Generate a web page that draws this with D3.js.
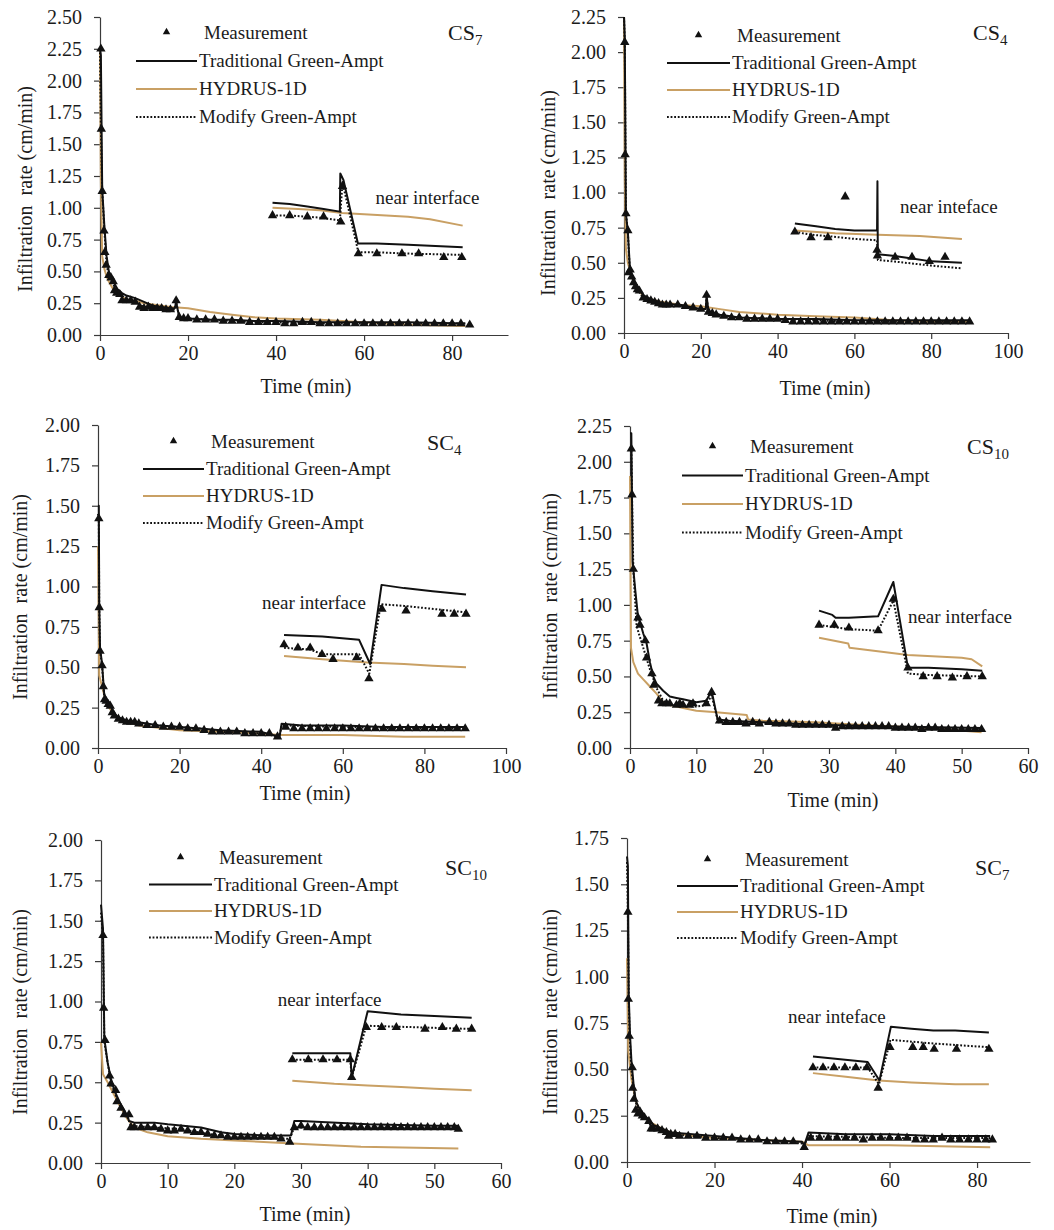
<!DOCTYPE html>
<html>
<head>
<meta charset="utf-8">
<script src="https://cdn.jsdelivr.net/npm/d3@7"></script>
<style>
  body { margin: 0; background: #fff; }
  text { font-family: "Liberation Serif", "Times New Roman", serif; fill: #1b1b1b; }
</style>
</head>
<body>
<svg id="fig" width="1054" height="1230"></svg>
<script>
// ---- tick labels ----
const yTicks250 = [0, 0.25, 0.5, 0.75, 1, 1.25, 1.5, 1.75, 2, 2.25, 2.5];
const yTicks225 = [0, 0.25, 0.5, 0.75, 1, 1.25, 1.5, 1.75, 2, 2.25];
const yTicks200 = [0, 0.25, 0.5, 0.75, 1, 1.25, 1.5, 1.75, 2];
const yTicks175 = [0, 0.25, 0.5, 0.75, 1, 1.25, 1.5, 1.75];
const xTicks80 = [0, 20, 40, 60, 80];
const xTicks100 = [0, 20, 40, 60, 80, 100];
const xTicks60 = [0, 10, 20, 30, 40, 50, 60];

const seriesNames = ["Measurement", "Traditional Green-Ampt", "HYDRUS-1D", "Modify Green-Ampt"];

// ---- CS7 ----
const cs7Meas = [[0.2,2.25],[0.3,1.62],[0.5,1.13],[0.9,0.82],[1.1,0.65],[1.4,0.55],[2,0.47],[2.5,0.45],[3,0.42],[3.3,0.35],[3.8,0.33],[4.5,0.32],[5,0.27],[6,0.27],[7,0.27],[8,0.26],[9,0.22],[10,0.21],[11,0.22],[12,0.21],[13,0.21],[14,0.21],[15,0.2],[16,0.2],[17.3,0.27],[18,0.14],[19,0.13],[20,0.13],[22,0.12],[24,0.12],[26,0.12],[28,0.11],[30,0.11],[32,0.11],[34,0.1],[36,0.1],[38,0.1],[40,0.1],[42,0.09],[44,0.09],[46,0.1],[48,0.1],[50,0.09],[52,0.09],[54,0.09],[56,0.09],[58,0.09],[60,0.09],[62,0.09],[64,0.09],[66,0.09],[68,0.09],[70,0.09],[72,0.09],[74,0.09],[76,0.09],[78,0.09],[80,0.09],[82,0.09],[84,0.08]];
const cs7Trad = [[0,2.25],[0.2,2.2],[0.5,1.15],[1,0.85],[1.5,0.62],[2,0.5],[3,0.42],[4,0.36],[5,0.33],[6,0.31],[8,0.29],[10,0.26],[12,0.23],[14,0.22],[16,0.21],[17,0.21],[17.3,0.26],[18,0.14],[20,0.13],[25,0.12],[30,0.12],[35,0.11],[40,0.11],[50,0.1],[60,0.1],[70,0.1],[83,0.09]];
const cs7Hyd = [[0,2.25],[0.2,1.2],[0.5,0.62],[1,0.52],[1.5,0.46],[2,0.42],[3,0.36],[4,0.32],[5,0.3],[6,0.28],[8,0.27],[10,0.25],[12,0.24],[14,0.23],[16,0.22],[20,0.21],[25,0.18],[30,0.16],[35,0.14],[40,0.13],[50,0.12],[60,0.1],[70,0.08],[83,0.07]];
const cs7Mod = [[0,2.25],[0.2,1.62],[0.5,1.13],[1,0.82],[1.5,0.55],[2,0.47],[3,0.4],[4,0.33],[5,0.3],[6,0.28],[8,0.26],[10,0.22],[12,0.21],[14,0.21],[16,0.2],[17,0.2],[17.3,0.26],[18,0.14],[20,0.13],[25,0.12],[30,0.11],[35,0.1],[40,0.1],[50,0.09],[60,0.09],[70,0.09],[83,0.09]];
const cs7NearMeas = [[39.2,0.94],[43.1,0.94],[47.1,0.93],[50.8,0.93],[54.7,0.89],[55.1,1.17],[58.7,0.64],[62.9,0.64],[68.6,0.64],[72.4,0.64],[78.1,0.61],[82.2,0.61]];
const cs7NearTrad = [[39.2,1.04],[43.1,1.03],[47.1,1.01],[50.8,0.99],[54.5,0.97],[54.6,1.27],[55.3,1.22],[58.6,0.72],[62.9,0.72],[70,0.71],[82.4,0.69]];
const cs7NearHyd = [[39.2,1.0],[45,0.99],[50,0.98],[55,0.96],[60,0.95],[65,0.94],[70,0.93],[75,0.91],[82.4,0.86]];
const cs7NearMod = [[39.2,0.94],[43.1,0.94],[47.1,0.93],[50.8,0.92],[54.5,0.9],[55.1,1.2],[58.7,0.65],[62.9,0.65],[70,0.64],[82.4,0.63]];

// ---- CS4 ----
const cs4Meas = [[0.2,2.07],[0.3,1.27],[0.5,0.85],[1,0.73],[1.2,0.43],[1.6,0.45],[2,0.4],[2.5,0.36],[3,0.33],[3.5,0.31],[4,0.3],[5,0.25],[6,0.24],[7,0.23],[8,0.22],[9,0.21],[10,0.2],[11,0.2],[12,0.2],[14,0.2],[16,0.19],[18,0.18],[20,0.17],[21.5,0.27],[22,0.15],[23,0.14],[24,0.13],[26,0.12],[28,0.11],[30,0.11],[32,0.1],[34,0.1],[36,0.1],[38,0.1],[40,0.1],[42,0.09],[44,0.08],[46,0.08],[48,0.08],[50,0.08],[52,0.08],[54,0.08],[56,0.08],[58,0.08],[60,0.08],[62,0.08],[64,0.08],[66,0.08],[68,0.08],[70,0.08],[72,0.08],[74,0.08],[76,0.08],[78,0.08],[80,0.08],[82,0.08],[84,0.08],[86,0.08],[88,0.08],[90,0.08]];
const cs4Trad = [[0,2.25],[0.2,2.1],[0.5,0.85],[1,0.72],[1.5,0.48],[2,0.42],[3,0.35],[5,0.27],[7,0.24],[10,0.21],[15,0.2],[20,0.17],[21.3,0.17],[21.5,0.27],[22,0.15],[25,0.13],[30,0.11],[40,0.1],[50,0.1],[60,0.09],[70,0.09],[80,0.09],[90,0.09]];
const cs4Hyd = [[0,2.25],[0.2,1.1],[0.5,0.6],[1,0.5],[1.5,0.45],[2,0.4],[3,0.34],[5,0.26],[7,0.24],[10,0.22],[15,0.2],[20,0.19],[25,0.17],[30,0.15],[40,0.13],[50,0.12],[60,0.11],[70,0.09],[80,0.08],[90,0.08]];
const cs4Mod = [[0,2.25],[0.2,2.07],[0.5,0.85],[1,0.72],[1.5,0.45],[2,0.4],[3,0.33],[5,0.25],[7,0.23],[10,0.2],[15,0.19],[20,0.17],[21.3,0.17],[21.5,0.26],[22,0.14],[25,0.12],[30,0.11],[40,0.1],[50,0.09],[60,0.08],[70,0.08],[80,0.08],[90,0.08]];
const cs4NearMeas = [[44.5,0.72],[48.7,0.68],[53.1,0.68],[57.6,0.97],[65.9,0.59],[66,0.55],[70.6,0.54],[75,0.54],[79.5,0.51],[83.6,0.54]];
const cs4NearTrad = [[44.5,0.78],[50,0.76],[55,0.74],[60,0.73],[65.9,0.73],[66,1.08],[66.1,0.56],[70,0.55],[75,0.53],[80,0.51],[88,0.5]];
const cs4NearHyd = [[44.5,0.73],[55,0.71],[66,0.7],[77,0.69],[88,0.67]];
const cs4NearMod = [[44.5,0.72],[48.7,0.7],[53,0.69],[60,0.67],[65.9,0.66],[66.1,0.52],[70,0.51],[80,0.48],[88,0.46]];

// ---- SC4 ----
const sc4Meas = [[0.2,1.42],[0.3,0.87],[0.5,0.6],[1,0.51],[1.3,0.38],[1.6,0.3],[2,0.29],[2.5,0.27],[3,0.26],[3.5,0.22],[4,0.2],[5,0.18],[6,0.17],[7,0.16],[8,0.16],[9,0.16],[10,0.15],[12,0.14],[14,0.14],[16,0.13],[18,0.13],[20,0.13],[22,0.12],[24,0.12],[26,0.11],[28,0.1],[30,0.1],[32,0.1],[34,0.1],[36,0.09],[38,0.09],[40,0.09],[42,0.09],[44,0.07],[46,0.13],[48,0.12],[50,0.12],[52,0.12],[54,0.12],[56,0.12],[58,0.12],[60,0.12],[62,0.12],[64,0.12],[66,0.12],[68,0.12],[70,0.12],[72,0.12],[74,0.12],[76,0.12],[78,0.12],[80,0.12],[82,0.12],[84,0.12],[86,0.12],[88,0.12],[90,0.12]];
const sc4Trad = [[0,1.5],[0.2,1.5],[0.3,0.9],[0.5,0.62],[1,0.52],[1.5,0.34],[2,0.3],[3,0.27],[4,0.21],[5,0.19],[7,0.17],[10,0.16],[15,0.14],[20,0.13],[25,0.12],[30,0.11],[40,0.1],[44.5,0.07],[45,0.15],[50,0.14],[60,0.14],[70,0.13],[80,0.13],[90,0.13]];
const sc4Hyd = [[0,1.25],[0.3,0.45],[1,0.38],[2,0.28],[3,0.24],[5,0.18],[10,0.14],[20,0.11],[30,0.1],[40,0.09],[44.5,0.08],[60,0.08],[75,0.07],[90,0.07]];
const sc4Mod = [[0,1.45],[0.2,1.42],[0.3,0.87],[0.5,0.6],[1,0.51],[1.5,0.32],[2,0.29],[3,0.26],[4,0.2],[5,0.18],[7,0.16],[10,0.15],[15,0.14],[20,0.13],[25,0.12],[30,0.1],[40,0.09],[44.5,0.07],[45,0.14],[60,0.13],[75,0.12],[90,0.12]];
const sc4NearMeas = [[45.6,0.64],[49,0.62],[52,0.62],[54.9,0.58],[57.6,0.55],[63.4,0.56],[66.4,0.43],[69.6,0.86],[75.5,0.85],[84.3,0.83],[87.3,0.83],[90.2,0.83]];
const sc4NearTrad = [[45.6,0.7],[55,0.69],[64,0.67],[66.7,0.52],[69.5,1.01],[75,0.99],[82,0.97],[90.2,0.95]];
const sc4NearHyd = [[45.6,0.57],[55,0.55],[66,0.53],[75,0.52],[82,0.51],[90.2,0.5]];
const sc4NearMod = [[45.6,0.62],[52,0.61],[55,0.58],[64,0.58],[66.5,0.46],[69.3,0.89],[75,0.88],[90.2,0.84]];

// ---- CS10 ----
const cs10Meas = [[0.2,2.09],[0.3,1.77],[0.5,1.25],[1.2,0.91],[1.5,0.86],[2.3,0.75],[2.5,0.63],[3.3,0.52],[3.6,0.44],[4.3,0.33],[4.8,0.31],[5.5,0.31],[6,0.31],[7,0.3],[7.5,0.31],[8,0.3],[9,0.3],[9.5,0.31],[11.5,0.31],[12.3,0.39],[13.5,0.19],[14.5,0.18],[15.5,0.18],[16.5,0.18],[17.5,0.17],[18.5,0.18],[19.5,0.17],[21,0.18],[22,0.17],[23,0.17],[24,0.17],[25,0.16],[26,0.16],[27,0.16],[28,0.16],[29,0.16],[30,0.16],[31,0.14],[32,0.15],[33,0.15],[34,0.15],[35,0.15],[36,0.15],[37,0.15],[38,0.15],[39,0.15],[40,0.14],[41,0.14],[42,0.14],[43,0.14],[44,0.13],[45,0.14],[46,0.14],[47,0.13],[48,0.13],[49,0.13],[50,0.13],[51,0.13],[52,0.13],[53,0.13]];
const cs10Trad = [[0,2.2],[0.2,2.2],[0.4,1.3],[0.8,1.1],[1.2,0.92],[1.5,0.88],[2,0.8],[2.5,0.73],[3,0.6],[3.5,0.5],[4,0.45],[5,0.4],[6,0.36],[7,0.35],[8,0.34],[10,0.32],[11.5,0.33],[12.3,0.4],[13.2,0.2],[15,0.19],[20,0.18],[25,0.17],[30,0.16],[40,0.15],[53,0.14]];
const cs10Hyd = [[0,1.9],[0.15,0.7],[0.5,0.6],[1.2,0.52],[2,0.48],[3,0.43],[4,0.38],[5,0.32],[6,0.3],[8,0.28],[10,0.26],[13,0.25],[17.6,0.23],[17.8,0.2],[20,0.19],[28,0.18],[35,0.16],[45,0.14],[53,0.11]];
const cs10Mod = [[0,2.1],[0.2,2.09],[0.3,1.77],[0.5,1.25],[1,0.85],[2,0.7],[3,0.55],[4,0.42],[5,0.33],[6,0.3],[10,0.29],[11.5,0.3],[12.3,0.37],[13.3,0.18],[20,0.17],[30,0.15],[40,0.14],[53,0.13]];
const cs10NearMeas = [[28.5,0.86],[30.8,0.86],[33,0.84],[37.4,0.82],[39.7,1.04],[41.9,0.56],[44.2,0.5],[46.3,0.5],[48.6,0.49],[50.8,0.5],[53.1,0.5]];
const cs10NearTrad = [[28.5,0.96],[30.5,0.93],[31,0.91],[33,0.91],[37.4,0.92],[39.7,1.16],[41.9,0.56],[45,0.56],[50,0.55],[53.1,0.54]];
const cs10NearHyd = [[28.5,0.77],[32.9,0.73],[33.1,0.7],[41.9,0.65],[50,0.63],[51.5,0.62],[53.1,0.57]];
const cs10NearMod = [[28.5,0.86],[33,0.83],[37.4,0.82],[39.7,1.03],[41.9,0.52],[45,0.51],[53.1,0.5]];

// ---- SC10 ----
const sc10Meas = [[0.3,1.41],[0.4,0.96],[0.6,0.76],[1.3,0.54],[1.5,0.49],[2.2,0.45],[2.4,0.38],[3,0.34],[3.5,0.3],[4.2,0.3],[4.5,0.22],[5,0.22],[6,0.22],[7,0.22],[8,0.22],[9,0.21],[10,0.2],[11,0.2],[12,0.21],[13,0.2],[14,0.19],[15,0.19],[16,0.18],[17,0.17],[18,0.17],[19,0.16],[20,0.16],[21,0.16],[22,0.16],[23,0.16],[24,0.16],[25,0.16],[26,0.16],[27,0.15],[28.3,0.13],[29,0.22],[30,0.23],[31,0.22],[32,0.22],[33,0.22],[34,0.22],[35,0.22],[36,0.22],[37,0.22],[38,0.22],[39,0.22],[40,0.22],[41,0.22],[42,0.22],[43,0.22],[44,0.22],[45,0.22],[46,0.22],[47,0.22],[48,0.22],[49,0.22],[50,0.22],[51,0.22],[52,0.22],[53,0.22],[53.6,0.21]];
const sc10Trad = [[0,1.6],[0.3,1.45],[0.5,0.77],[1,0.62],[1.5,0.52],[2,0.45],[3,0.36],[4,0.29],[4.2,0.26],[5,0.25],[8,0.25],[10,0.24],[15,0.22],[18,0.19],[20,0.18],[25,0.17],[28.5,0.17],[29,0.26],[30,0.26],[40,0.24],[50,0.23],[53.6,0.23]];
const sc10Hyd = [[0,0.75],[0.3,0.55],[1,0.5],[2,0.42],[3,0.34],[4,0.27],[5,0.22],[7,0.19],[10,0.165],[15,0.15],[20,0.14],[28.7,0.12],[39,0.1],[53.6,0.09]];
const sc10Mod = [[0,1.55],[0.3,1.4],[0.5,0.75],[1,0.62],[1.5,0.5],[2,0.44],[3,0.34],[4,0.28],[4.5,0.23],[8,0.22],[12,0.21],[16,0.18],[20,0.16],[28.3,0.15],[29,0.22],[40,0.22],[53.6,0.21]];
const sc10NearMeas = [[28.7,0.64],[31.1,0.64],[33.3,0.64],[35.4,0.64],[37.4,0.64],[37.6,0.53],[39.8,0.84],[42.1,0.84],[44.3,0.84],[48.6,0.83],[51.2,0.84],[53.3,0.83],[55.6,0.83]];
const sc10NearTrad = [[28.7,0.68],[37.4,0.68],[37.6,0.53],[40,0.94],[45,0.92],[50,0.91],[55.6,0.9]];
const sc10NearHyd = [[28.7,0.51],[35,0.49],[40,0.48],[45,0.47],[50,0.46],[55.6,0.45]];
const sc10NearMod = [[28.7,0.64],[37.4,0.64],[37.6,0.53],[39.8,0.85],[55.6,0.83]];

// ---- SC7 ----
const sc7Meas = [[0.2,1.35],[0.3,0.88],[0.5,0.68],[1.2,0.51],[1.3,0.4],[1.6,0.34],[2,0.28],[2.5,0.26],[3,0.27],[3.5,0.25],[4,0.24],[5,0.22],[5.5,0.18],[6,0.18],[7,0.18],[8,0.17],[9,0.16],[9.5,0.14],[10,0.15],[11,0.15],[12,0.14],[14,0.14],[16,0.14],[18,0.13],[20,0.13],[22,0.13],[24,0.13],[26,0.12],[28,0.12],[30,0.12],[32,0.11],[34,0.11],[36,0.11],[38,0.11],[40.5,0.08],[42,0.13],[44,0.13],[46,0.13],[48,0.13],[50,0.13],[52,0.13],[54,0.12],[56,0.13],[58,0.13],[60,0.13],[62,0.13],[64,0.13],[66,0.12],[68,0.12],[70,0.12],[72,0.13],[74,0.12],[76,0.12],[78,0.12],[80,0.12],[82,0.12],[83.5,0.12]];
const sc7Trad = [[0,1.65],[0.2,1.6],[0.4,0.9],[0.7,0.68],[1,0.55],[1.5,0.42],[2,0.33],[3,0.28],[4,0.25],[5,0.23],[6,0.2],[8,0.18],[10,0.16],[15,0.15],[20,0.14],[30,0.12],[40,0.11],[40.5,0.09],[41.5,0.16],[50,0.15],[60,0.15],[70,0.14],[83,0.14]];
const sc7Hyd = [[0,1.1],[0.3,0.6],[1,0.45],[2,0.33],[3,0.27],[5,0.22],[8,0.18],[10,0.16],[15,0.14],[20,0.13],[30,0.12],[40,0.11],[41.5,0.09],[60,0.09],[83,0.08]];
const sc7Mod = [[0,1.62],[0.2,1.35],[0.4,0.88],[0.6,0.68],[1,0.5],[1.5,0.4],[2,0.32],[3,0.27],[4,0.24],[5,0.21],[6,0.18],[8,0.17],[10,0.15],[15,0.14],[20,0.13],[30,0.12],[40,0.1],[40.5,0.09],[41.5,0.14],[60,0.13],[83,0.13]];
const sc7NearMeas = [[42.5,0.51],[44.8,0.51],[47.3,0.51],[49.8,0.51],[52.3,0.51],[54.8,0.51],[57.4,0.4],[60.1,0.62],[65.3,0.62],[67.7,0.62],[70.2,0.61],[75.3,0.61],[82.7,0.61]];
const sc7NearTrad = [[42.5,0.57],[55,0.54],[57.7,0.44],[60.3,0.73],[65,0.72],[70,0.71],[75,0.71],[82.7,0.7]];
const sc7NearHyd = [[42.5,0.48],[50,0.46],[57.5,0.44],[65,0.43],[75,0.42],[82.7,0.42]];
const sc7NearMod = [[42.5,0.51],[55,0.51],[57.6,0.42],[60.2,0.66],[70,0.64],[82.7,0.62]];

// ---- panel layout ----
const panels = [
  { name: "CS", sub: "7", near: "near interface", nearAt: [62.6, 1.03],
    meas: cs7Meas, trad: cs7Trad, hyd: cs7Hyd, mod: cs7Mod,
    nMeas: cs7NearMeas, nTrad: cs7NearTrad, nHyd: cs7NearHyd, nMod: cs7NearMod,
    xDomain: [0, 92.7], xRange: [100, 508], xTicks: xTicks80,
    yDomain: [0, 2.5], yRange: [335, 17], yTicks: yTicks250,
    leg: [136, 197, 33, 28], label: [448, 40], yTitle: [25, 189], xTitle: [306, 393] },
  { name: "CS", sub: "4", near: "near inteface", nearAt: [71.9, 0.855],
    meas: cs4Meas, trad: cs4Trad, hyd: cs4Hyd, mod: cs4Mod,
    nMeas: cs4NearMeas, nTrad: cs4NearTrad, nHyd: cs4NearHyd, nMod: cs4NearMod,
    xDomain: [0, 100], xRange: [624, 1008], xTicks: xTicks100,
    yDomain: [0, 2.25], yRange: [333, 17], yTicks: yTicks225,
    leg: [667, 730, 36, 27], label: [973, 40], yTitle: [548, 193], xTitle: [825, 395] },
  { name: "SC", sub: "4", near: "near interface", nearAt: [40.2, 0.86],
    meas: sc4Meas, trad: sc4Trad, hyd: sc4Hyd, mod: sc4Mod,
    nMeas: sc4NearMeas, nTrad: sc4NearTrad, nHyd: sc4NearHyd, nMod: sc4NearMod,
    xDomain: [0, 100], xRange: [98, 506], xTicks: xTicks100,
    yDomain: [0, 2], yRange: [748, 425], yTicks: yTicks200,
    leg: [143, 204, 442, 27], label: [427, 450], yTitle: [20, 597], xTitle: [305, 800] },
  { name: "CS", sub: "10", near: "near interface", nearAt: [41.9, 0.873],
    meas: cs10Meas, trad: cs10Trad, hyd: cs10Hyd, mod: cs10Mod,
    nMeas: cs10NearMeas, nTrad: cs10NearTrad, nHyd: cs10NearHyd, nMod: cs10NearMod,
    xDomain: [0, 60], xRange: [630, 1028], xTicks: xTicks60,
    yDomain: [0, 2.25], yRange: [748, 426], yTicks: yTicks225,
    leg: [682, 743, 447, 28.5], label: [967, 454], yTitle: [550, 596], xTitle: [833, 807] },
  { name: "SC", sub: "10", near: "near interface", nearAt: [26.5, 0.97],
    meas: sc10Meas, trad: sc10Trad, hyd: sc10Hyd, mod: sc10Mod,
    nMeas: sc10NearMeas, nTrad: sc10NearTrad, nHyd: sc10NearHyd, nMod: sc10NearMod,
    xDomain: [0, 60], xRange: [101, 501], xTicks: xTicks60,
    yDomain: [0, 2], yRange: [1163, 840], yTicks: yTicks200,
    leg: [149, 212, 858, 26.5], label: [445, 875], yTitle: [20, 1012], xTitle: [305, 1221] },
  { name: "SC", sub: "7", near: "near inteface", nearAt: [36.8, 0.75],
    meas: sc7Meas, trad: sc7Trad, hyd: sc7Hyd, mod: sc7Mod,
    nMeas: sc7NearMeas, nTrad: sc7NearTrad, nHyd: sc7NearHyd, nMod: sc7NearMod,
    xDomain: [0, 92.1], xRange: [627, 1030], xTicks: xTicks80,
    yDomain: [0, 1.75], yRange: [1162, 838], yTicks: yTicks175,
    leg: [677, 738, 860, 26], label: [975, 875], yTitle: [550, 1012], xTitle: [832, 1223] }
];

const hydColor = "#c9a064";
const axisColor = "#3a3a3a";
const svg = d3.select("#fig");
const tri = d3.symbol().type(d3.symbolTriangle);

// styles for the three model lines
const lineStyles = {
  trad: { stroke: "#111", dash: null },
  hyd: { stroke: hydColor, dash: null },
  mod: { stroke: "#111", dash: "1.8,1.8" }
};

function drawPanel(p) {
  const g = svg.append("g");
  const x = d3.scaleLinear().domain(p.xDomain).range(p.xRange);
  const y = d3.scaleLinear().domain(p.yDomain).range(p.yRange);

  // axes
  const gx = g.append("g")
    .attr("transform", `translate(0,${p.yRange[0]})`)
    .call(d3.axisBottom(x).tickValues(p.xTicks).tickSize(6).tickSizeOuter(0).tickPadding(5).tickFormat(d3.format("d")));
  const gy = g.append("g")
    .attr("transform", `translate(${p.xRange[0]},0)`)
    .call(d3.axisLeft(y).tickValues(p.yTicks).tickSize(6).tickSizeOuter(0).tickPadding(12).tickFormat(d3.format(".2f")));
  [gx, gy].forEach(a => {
    a.attr("font-family", null).attr("font-size", 20);
    a.selectAll("path, line").attr("stroke", axisColor).attr("stroke-width", 1.2);
    a.selectAll("text").attr("fill", "#1b1b1b");
  });

  // axis titles
  g.append("text")
    .attr("x", p.xTitle[0]).attr("y", p.xTitle[1])
    .attr("text-anchor", "middle").attr("font-size", 20)
    .text("Time (min)");
  g.append("text")
    .attr("transform", `translate(${p.yTitle[0]},${p.yTitle[1]}) rotate(-90)`)
    .attr("text-anchor", "middle").attr("dy", "0.35em").attr("font-size", 20)
    .style("white-space", "pre")
    .text("Infiltration  rate (cm/min)");

  const line = d3.line().x(d => x(d[0])).y(d => y(d[1]));

  // model curves: main run and the near-interface run
  [["hyd", p.hyd, p.nHyd], ["trad", p.trad, p.nTrad], ["mod", p.mod, p.nMod]].forEach(([k, a, b]) => {
    g.selectAll(null)
      .data([a, b])
      .join("path")
      .attr("d", line)
      .attr("fill", "none")
      .attr("stroke", lineStyles[k].stroke)
      .attr("stroke-width", 2)
      .attr("stroke-dasharray", lineStyles[k].dash)
      .attr("stroke-linejoin", "round");
  });

  // measurement triangles
  g.selectAll(null)
    .data(p.meas.concat(p.nMeas))
    .join("path")
    .attr("d", tri.size(38))
    .attr("transform", d => `translate(${x(d[0])},${y(d[1])})`)
    .attr("fill", "#111");

  // near interface note
  g.append("text")
    .attr("x", x(p.nearAt[0])).attr("y", y(p.nearAt[1]))
    .attr("font-size", 19)
    .text(p.near);

  // panel name with subscript
  const lab = g.append("text")
    .attr("x", p.label[0]).attr("y", p.label[1])
    .attr("font-size", 22)
    .text(p.name);
  lab.append("tspan").attr("dy", 5).attr("font-size", 15).text(p.sub);

  // legend
  const [lx0, lx1, ly0, step] = p.leg;
  const leg = g.append("g");
  seriesNames.forEach((name, i) => {
    const yy = ly0 + i * step;
    if (i === 0) {
      leg.append("path")
        .attr("d", tri.size(24))
        .attr("transform", `translate(${(lx0 + lx1) / 2},${yy - 1})`)
        .attr("fill", "#111");
    } else {
      const st = lineStyles[["", "trad", "hyd", "mod"][i]];
      leg.append("line")
        .attr("x1", lx0).attr("x2", lx1).attr("y1", yy).attr("y2", yy)
        .attr("stroke", st.stroke).attr("stroke-width", 2)
        .attr("stroke-dasharray", st.dash);
    }
    leg.append("text")
      .attr("x", lx1 + (i === 0 ? 7 : 2)).attr("y", yy).attr("dy", "0.33em")
      .attr("font-size", 19)
      .text(name);
  });
}

panels.forEach(drawPanel);
</script>
</body>
</html>
